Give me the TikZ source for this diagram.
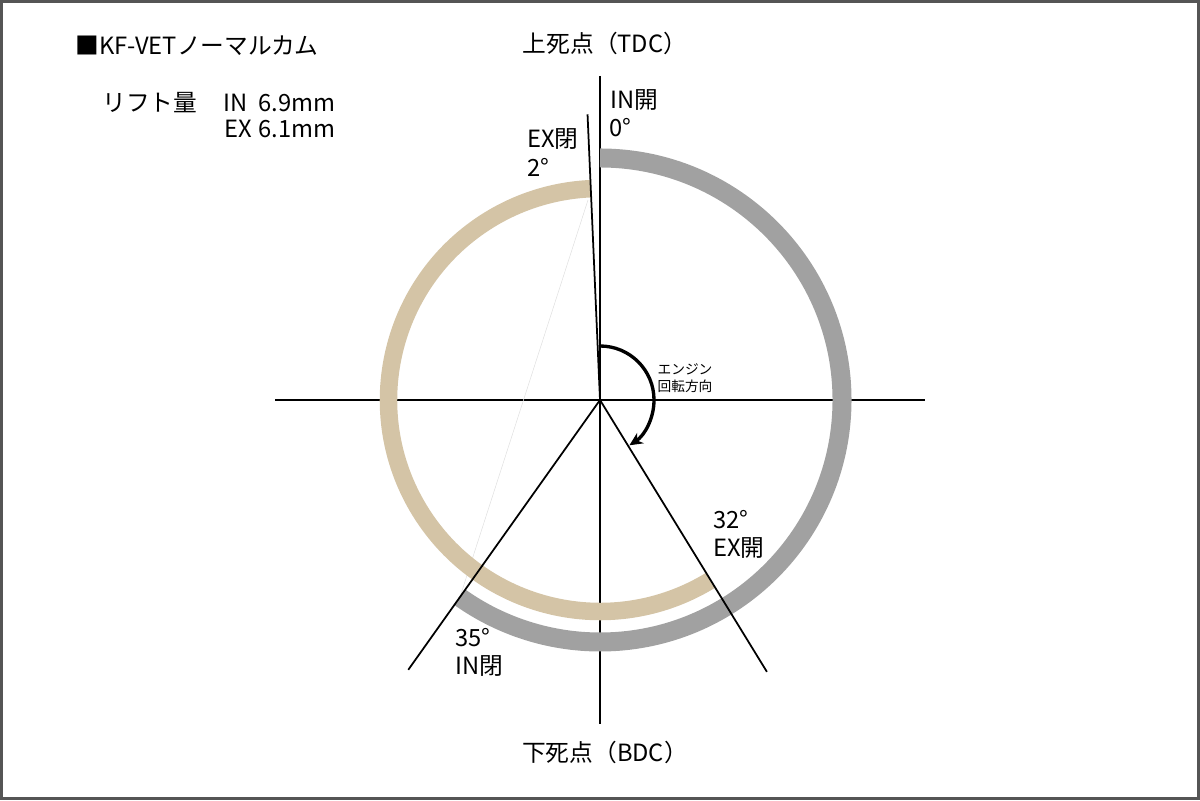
\documentclass[tikz,border=0pt]{standalone}
\usepackage{fontspec}
\setmainfont{Noto Sans CJK JP}
\usetikzlibrary{arrows.meta}
\definecolor{ingray}{RGB}{161,161,161}
\definecolor{extan}{RGB}{212,196,166}
\definecolor{framegray}{RGB}{85,85,85}
\tikzset{%
	lbl/.style = {inner sep = 0pt, font = \fontsize{13.5}{16}\selectfont},
	note/.style = {inner sep = 0pt, font = \fontsize{7.8}{9.7}\selectfont, align = left},
	axis/.style = {line width = 1.1pt},
	cut/.style = {line width = 1pt},
	ring/.style = {line width = #1, line cap = butt},
	>={Stealth[length = 7.5pt, width = 7pt]}
}
\begin{document}
\begin{tikzpicture}
	\useasboundingbox (0,0) rectangle (24,16);
	\draw [framegray, line width = 0.06cm] (0.03,0.03) rectangle (23.97,15.97);
	\coordinate (O) at (12,8);
	\coordinate (L) at (5.5,8);
	\coordinate (R) at (18.5,8);
	\coordinate (T) at (12,14.48);
	\coordinate (B) at (12,1.52);
	\coordinate (f1) at (11.76,12.0);
	\coordinate (f2) at (9.2,4.06);
	\path (O) ++(92.5:5.72) coordinate (exclose);
	\path (O) ++(-125.4:6.62) coordinate (inclose);
	\path (O) ++(-58.45:6.38) coordinate (exopen);
	\draw [axis] (L) -- (R);
	\draw [line width = 0.75pt] (T) -- (B);
	\draw [black!12, line width = 0.3pt] (f1) -- (f2);
	\draw [ingray, ring = 0.38cm] (O) ++(90:4.84) arc [start angle = 90, end angle = -125.4, radius = 4.84];
	\draw [extan, ring = 0.35cm] (O) ++(-58.45:4.23) arc [start angle = -58.45, end angle = -267.5, radius = 4.23];
	\draw [cut] (O) -- (exclose);
	\draw [cut] (O) -- (inclose);
	\draw [cut] (O) -- (exopen);
	\draw [->, line width = 1.9pt] (O) ++(90:1.08) arc [start angle = 90, end angle = -57, radius = 1.08];
	\node [note] (rot) at (13.7,8.44) {エンジン\\回転方向};
	\node [lbl, anchor = base west] (title) at (1.5,14.9) {■KF-VETノーマルカム};
	\node [lbl, anchor = base west] (lift) at (2.04,13.76) {リフト量};
	\node [lbl, anchor = base west] (in) at (4.46,13.76) {IN};
	\node [lbl, anchor = base east] (inlift) at (6.72,13.76) {6.9mm};
	\node [lbl, anchor = base west] (ex) at (4.48,13.24) {EX};
	\node [lbl, anchor = base east] (exlift) at (6.72,13.24) {6.1mm};
	\node [lbl, anchor = base] (tdc) at (12.1,14.94) {上死点（TDC）};
	\node [lbl, anchor = base] (bdc) at (12.1,0.78) {下死点（BDC）};
	\node [lbl, anchor = base west] (inopen) at (12.2,13.82) {IN開};
	\node [lbl, anchor = base west] (inopendeg) at (12.18,13.26) {0°};
	\node [lbl, anchor = base west] (excl) at (10.54,13.04) {EX閉};
	\node [lbl, anchor = base west] (excldeg) at (10.54,12.46) {2°};
	\node [lbl, anchor = base west] (exopdeg) at (14.26,5.42) {32°};
	\node [lbl, anchor = base west] (exop) at (14.26,4.86) {EX開};
	\node [lbl, anchor = base west] (incldeg) at (9.1,3.06) {35°};
	\node [lbl, anchor = base west] (incl) at (9.1,2.5) {IN閉};
\end{tikzpicture}
\end{document}
